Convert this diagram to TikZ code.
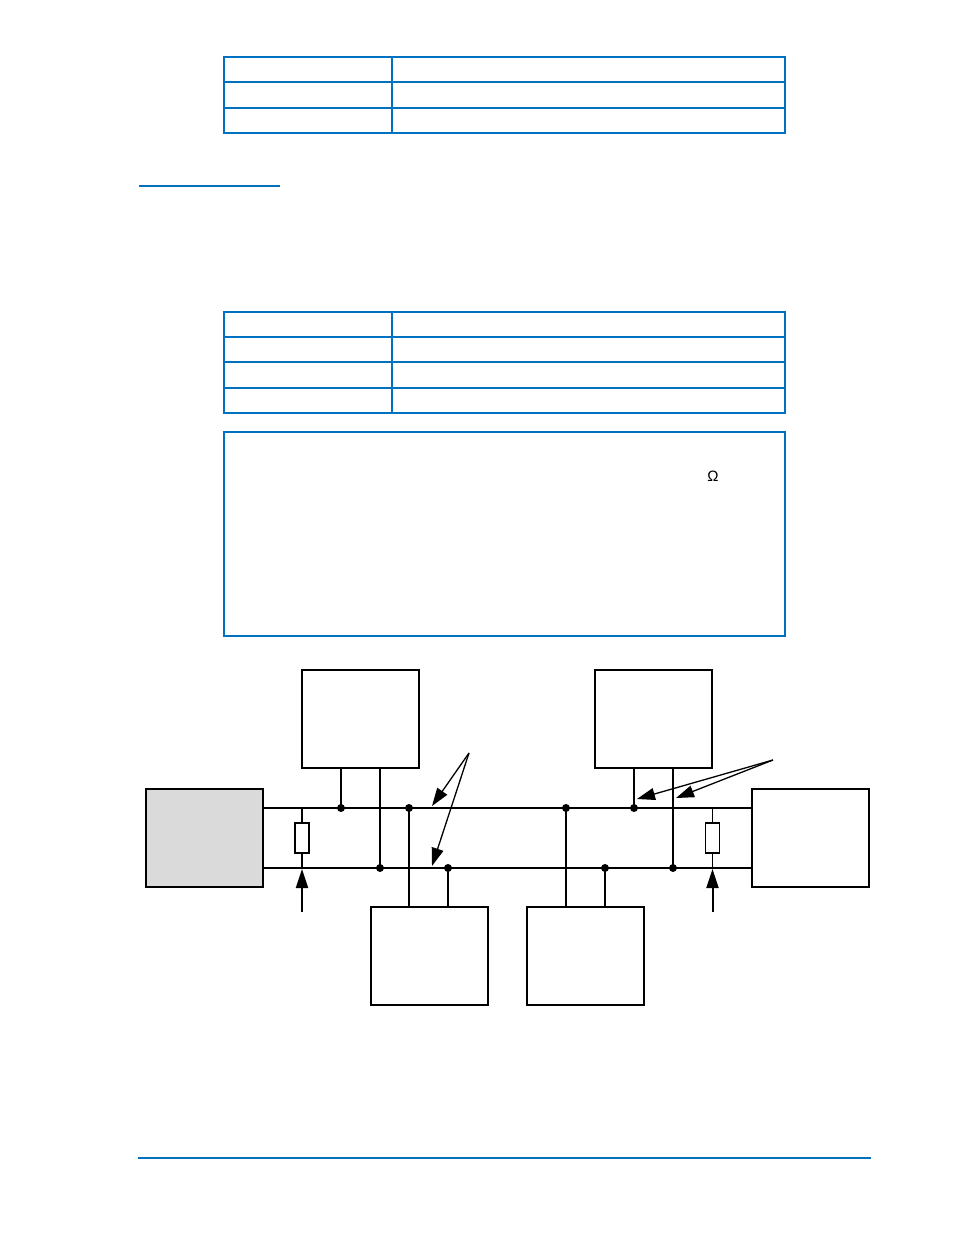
\documentclass[tikz,border=0pt]{standalone}
\usepackage{fontspec}
\setmainfont{Liberation Sans}
\usetikzlibrary{arrows.meta}
\definecolor{tblue}{RGB}{0,112,192}
\definecolor{boxgray}{RGB}{218,218,218}
\begin{document}
\begin{tikzpicture}[x=1pt,y=-1pt,
  tline/.style={draw=tblue,line width=1.3pt},
  unit/.style={draw,line width=2pt,minimum width=117pt,minimum height=98pt,inner sep=0pt,outer sep=0pt},
  thinw/.style={line width=1.2pt},
  thickw/.style={line width=2.2pt},
  jdot/.style={circle,fill,inner sep=0pt,minimum size=8pt},
  resist/.style={draw,fill=white,line width=1.5pt,minimum width=14pt,minimum height=30pt,inner sep=0pt,outer sep=0pt},
  ptr/.style={line width=1.3pt,-{Triangle[length=18pt,width=12pt]}},
  uptr/.style={line width=2pt,-{Triangle[length=19pt,width=12pt]}},
]
\useasboundingbox (0,0) rectangle (954,1235);
\fill[white] (0,0) rectangle (954,1235);

% table 1
\draw[tline] (224,57) rectangle (785,133);
\draw[tline] (392,57) -- (392,133);
\draw[tline] (224,82) -- (785,82);
\draw[tline] (224,108) -- (785,108);

% heading rule
\draw[tline] (139,186) -- (280,186);

% table 2
\draw[tline] (224,312) rectangle (785,413);
\draw[tline] (392,312) -- (392,413);
\draw[tline] (224,337) -- (785,337);
\draw[tline] (224,362) -- (785,362);
\draw[tline] (224,388) -- (785,388);

% note box
\draw[tline] (224,432) rectangle (785,636);
\node (omega) at (713,476) {\fontsize{15pt}{17pt}\selectfont Ω};

% footer rule
\draw[tline] (138,1158) -- (871,1158);

% units
\node[unit,fill=boxgray] (gray) at (204.5,838) {};
\node[unit] (tl) at (360.5,719) {};
\node[unit] (tr) at (653.5,719) {};
\node[unit] (rt) at (810,838) {};
\node[unit] (bl) at (429,956) {};
\node[unit] (bm) at (585.5,956) {};

% bus lines
\coordinate (busAL) at (263,808);
\coordinate (busAR) at (751,808);
\coordinate (busBL) at (263,868);
\coordinate (busBR) at (751,868);
\draw[thinw] (busAL) -- (busAR);
\draw[line width=2.4pt] (busBL) -- (busBR);

% junctions
\node[jdot] (j1) at (341,808) {};
\node[jdot] (j2) at (380,868) {};
\node[jdot] (j3) at (409,808) {};
\node[jdot] (j4) at (448,868) {};
\node[jdot] (j5) at (566,808) {};
\node[jdot] (j6) at (605,868) {};
\node[jdot] (j7) at (634,808) {};
\node[jdot] (j8) at (673,868) {};

% drops
\draw[thickw] (tl.south -| j1) -- (j1.center);
\draw[thinw] (tl.south -| j2) -- (j2.center);
\draw[thinw] (j3.center) -- (bl.north -| j3);
\draw[thinw] (j4.center) -- (bl.north -| j4);
\draw[thickw] (j5.center) -- (bm.north -| j5);
\draw[thickw] (j6.center) -- (bm.north -| j6);
\draw[thinw] (tr.south -| j7) -- (j7.center);
\draw[thinw] (tr.south -| j8) -- (j8.center);

% terminating resistors
\node[resist] (r1) at (302,838) {};
\node[resist] (r2) at (712.5,838) {};
\draw[line width=2pt] (302,808) -- (r1.north);
\draw[line width=2pt] (r1.south) -- (302,868);
\draw[thinw] (712.5,808) -- (r2.north);
\draw[thinw] (r2.south) -- (712.5,868);

% upward arrows
\coordinate (u1) at (302,912);
\coordinate (u1t) at (302,869);
\coordinate (u2) at (712.5,912);
\coordinate (u2t) at (712.5,869);
\draw[uptr] (u1) -- (u1t);
\draw[uptr] (u2) -- (u2t);

% pointer arrows
\coordinate (pa) at (469,753);
\coordinate (pa1) at (432,806);
\coordinate (pa2) at (432,866);
\draw[ptr] (pa) -- (pa1);
\draw[ptr] (pa) -- (pa2);
\coordinate (pb) at (773,760);
\coordinate (pb1) at (637,799);
\coordinate (pb2) at (676,798);
\draw[ptr] (pb) -- (pb1);
\draw[ptr] (pb) -- (pb2);
\end{tikzpicture}
\end{document}
